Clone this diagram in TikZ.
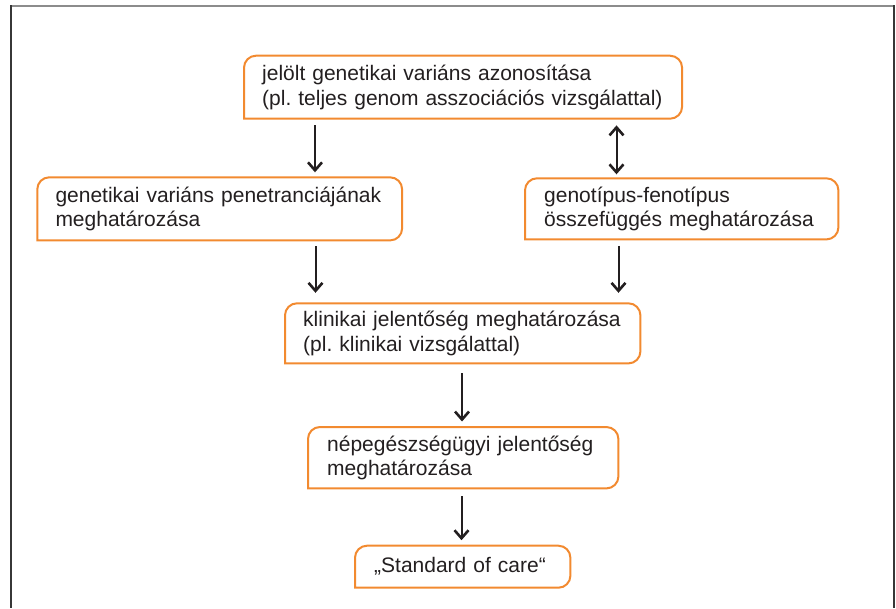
\documentclass[tikz,border=0pt]{standalone}
\usepackage{fontspec}
\setmainfont{Liberation Sans}
\usetikzlibrary{arrows.meta}
\frenchspacing
\definecolor{boxorange}{RGB}{242,138,48}
\definecolor{ink}{RGB}{35,31,32}
\definecolor{framedark}{RGB}{55,55,55}
\definecolor{framegray}{RGB}{140,140,140}
\newcommand\obox[1]{\draw[boxline] (#1.south west) -- ([yshift=-12pt]#1.north west) arc[start angle=180,end angle=90,radius=12pt] -- ([xshift=-12pt]#1.north east) arc[start angle=90,end angle=0,radius=12pt] -- ([yshift=12pt]#1.south east) arc[start angle=0,end angle=-90,radius=12pt] -- cycle;}
\tikzset{
  boxline/.style={draw=boxorange, line width=2pt},
  flowbox/.style={anchor=north west, draw=none, inner ysep=0pt, align=left, text=ink,
    font=\fontsize{21}{24.5}\selectfont},
  tipx/.tip={Straight Barb[length=8pt,width=14pt,line width=2.6pt]},
  arr/.style={draw=ink, line width=2pt, -tipx},
  darr/.style={draw=ink, line width=2pt, tipx-tipx},
}
\begin{document}
\begin{tikzpicture}[x=1pt,y=-1pt]
\useasboundingbox (0,0) rectangle (896,608);
% frame
\draw[framegray, line width=2pt] (10,6) -- (895,6);
\draw[framedark, line width=2pt] (10.8,5) -- (10.8,608);
\draw[framedark, line width=2pt] (894.4,5) -- (894.4,608);
% boxes
\node[flowbox, inner xsep=18pt, text width=401.7pt, minimum width=437.7pt, minimum height=62.6pt] (b1) at (244,55.7)
  {\mbox{jelölt genetikai variáns azonosítása}\\\mbox{(pl. teljes genom asszociációs vizsgálattal)}};
\node[flowbox, inner xsep=18pt, text width=328.4pt, minimum width=364.4pt, minimum height=62.7pt] (b2) at (37.3,177.3)
  {\mbox{genetikai variáns penetranciájának}\\\mbox{meghatározása}};
\node[flowbox, inner xsep=19pt, text width=275pt, minimum width=313pt, minimum height=60.7pt] (b3) at (525,178.3)
  {\mbox{genotípus-fenotípus}\\\mbox{összefüggés meghatározása}};
\node[flowbox, inner xsep=18pt, text width=319pt, minimum width=355pt, minimum height=59.7pt] (b4) at (285,303.3)
  {\mbox{klinikai jelentőség meghatározása}\\\mbox{(pl. klinikai vizsgálattal)}};
\node[flowbox, inner xsep=19pt, text width=272pt, minimum width=310pt, minimum height=61pt] (b5) at (308,427)
  {\mbox{népegészségügyi jelentőség}\\\mbox{meghatározása}};
\node[flowbox, inner xsep=19pt, text width=177pt, minimum width=215pt, minimum height=41.6pt] (b6) at (355,545.7)
  {\mbox{„Standard of care“}};
\obox{b1}\obox{b2}\obox{b3}\obox{b4}\obox{b5}\obox{b6}
% connectors
\draw[arr, shorten <=6.7pt, shorten >=5pt] (b1.south -| 315,0) -- (b2.north -| 315,0);
\draw[darr, shorten <=6.7pt, shorten >=4pt] (b1.south -| 616.5,0) -- (b3.north -| 616.5,0);
\draw[arr, shorten <=6pt, shorten >=10.5pt] (b2.south -| 315.5,0) -- (b4.north -| 315.5,0);
\draw[arr, shorten <=6.5pt, shorten >=10.5pt] (b3.south -| 618.5,0) -- (b4.north -| 618.5,0);
\draw[arr, shorten <=10pt, shorten >=5.5pt] (b4.south -| 462,0) -- (b5.north -| 462,0);
\draw[arr, shorten <=8pt, shorten >=5.5pt] (b5.south -| 461.5,0) -- (b6.north -| 461.5,0);
\end{tikzpicture}
\end{document}
